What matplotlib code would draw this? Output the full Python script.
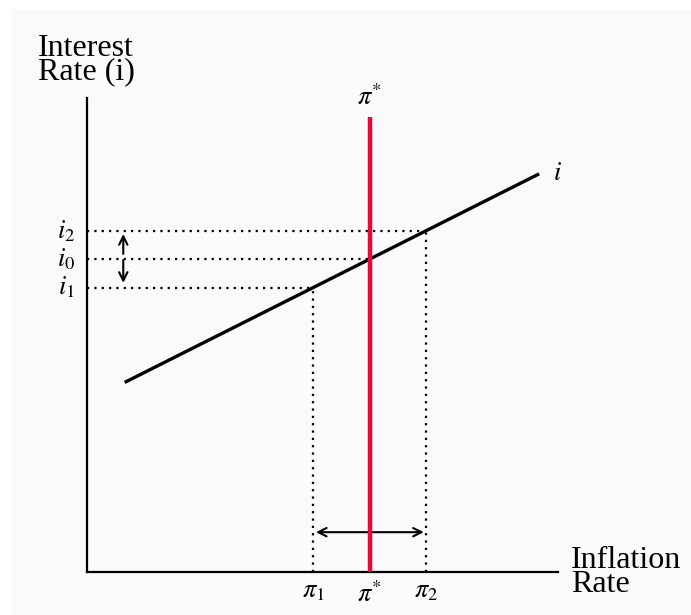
import matplotlib
matplotlib.use("Agg")
import matplotlib.pyplot as plt
from matplotlib.patches import Rectangle

plt.rcParams['font.family'] = ['Liberation Serif', 'DejaVu Serif']
plt.rcParams['mathtext.fontset'] = 'stix'

# Data (conceptual units)
curve_pi = [0.8, 9.6]          # inflation range of the i line
curve_i = [4.0, 8.4]           # interest rate at the ends of the i line
pi_star = 6.0
pi_star_top = 9.6
pi_points = [4.8, 6.0, 7.2]    # pi1, pi*, pi2
i_points = [6.0, 6.6, 7.2]     # i1, i0, i2
pi_labels = [r'$\pi_1$', r'$\pi^{*}$', r'$\pi_2$']
i_labels = [r'$i_1$', r'$i_0$', r'$i_2$']
arrow_x = 0.77
arrow_up = [6.71, 7.13]
arrow_down = [6.58, 6.10]
harrow_y = 0.84
harrow_x = [4.86, 7.15]

W, H = 691, 615
fig = plt.figure(figsize=(W / 100, H / 100), dpi=100, facecolor='white')
fig.patches.append(Rectangle((12 / W, 0), 1 - 12 / W, 1 - 9 / H, transform=fig.transFigure,
                             facecolor='#fafafa', edgecolor='none', zorder=-10))

ax = fig.add_axes([87 / W, (H - 572) / H, (558 - 87) / W, (572 - 98) / H])
ax.set_facecolor('none')
ax.set_xlim(0, 10)
ax.set_ylim(0, 10)
for s in ['top', 'right']:
    ax.spines[s].set_visible(False)
for s in ['left', 'bottom']:
    ax.spines[s].set_linewidth(1.6)
    ax.spines[s].set_color('black')
ax.set_xticks([])
ax.set_yticks([])

dot = dict(color='black', lw=1.6, linestyle=(0, (1, 2.3)), zorder=1)
# dotted guides
for p, iv in zip(pi_points, i_points):
    ax.plot([0, p], [iv, iv], **dot)
for idx in (0, 2):
    ax.plot([pi_points[idx], pi_points[idx]], [0, i_points[idx]], **dot)

# i line
ax.plot(curve_pi, curve_i, color='black', lw=2.4, solid_capstyle='butt', zorder=3)
# pi* vertical line
ax.plot([pi_star, pi_star], [0, pi_star_top], color='#e8093c', lw=3.2, solid_capstyle='butt', zorder=4)

# arrows
ap = dict(arrowstyle='->', color='black', lw=1.5, mutation_scale=15, shrinkA=0, shrinkB=0)
ax.annotate('', xy=(arrow_x, arrow_up[1]), xytext=(arrow_x, arrow_up[0]), arrowprops=ap)
ax.annotate('', xy=(arrow_x, arrow_down[1]), xytext=(arrow_x, arrow_down[0]), arrowprops=ap)
ap2 = dict(ap, arrowstyle='<->')
ax.annotate('', xy=(harrow_x[1], harrow_y), xytext=(harrow_x[0], harrow_y), arrowprops=ap2)

# labels
fs = 19
for lab, iv in zip(i_labels, i_points):
    ax.text(-0.25, iv, lab, ha='right', va='center', fontsize=fs, clip_on=False)
ax.text(pi_points[0], -0.2, pi_labels[0], ha='center', va='top', fontsize=fs, clip_on=False)
ax.text(pi_points[1], -0.2, pi_labels[1], ha='center', va='top', fontsize=fs, clip_on=False)
ax.text(pi_points[2], -0.2, pi_labels[2], ha='center', va='top', fontsize=fs, clip_on=False)
ax.text(pi_star, pi_star_top + 0.15, r'$\pi^{*}$', ha='center', va='bottom', fontsize=fs, clip_on=False)
ax.text(curve_pi[1] + 0.3, curve_i[1], r'$i$', ha='left', va='center', fontsize=fs, clip_on=False)

# axis titles
tfs = 23
fig.text(38 / W, 1 - 79 / H, 'Interest\nRate (i)', ha='left', va='baseline', fontsize=tfs,
         linespacing=0.75)
fig.text(571 / W, 1 - 592 / H, 'Inflation\nRate', ha='left', va='baseline', fontsize=tfs,
         linespacing=0.75)

fig.savefig('out.png', dpi=100, facecolor=fig.get_facecolor())
